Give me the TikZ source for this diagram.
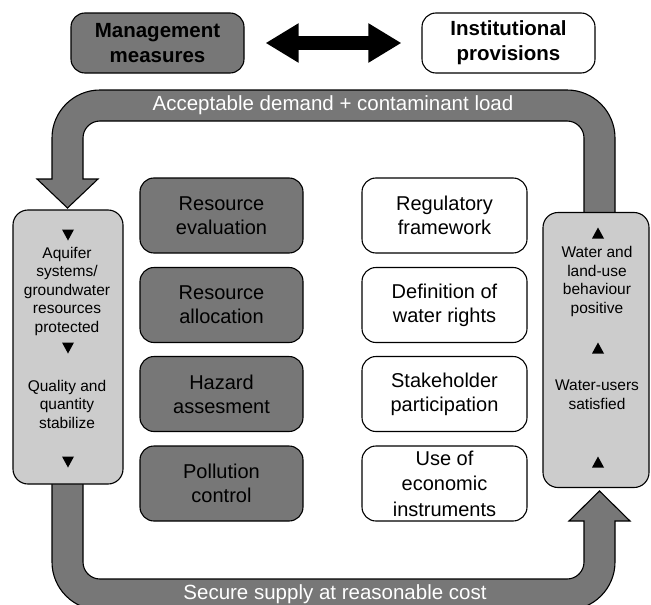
\documentclass[tikz,border=0pt]{standalone}
\usepackage{fontspec}
\setmainfont{Liberation Sans}
\usetikzlibrary{arrows.meta,calc}
\definecolor{darkfill}{HTML}{777777}
\definecolor{lightfill}{HTML}{CCCCCC}
\begin{document}
\begin{tikzpicture}[x=1pt,y=1pt,
  box/.style={draw=black, line width=1.1pt, rounded corners=14pt, align=center, inner sep=0pt},
  headbox/.style={box, minimum width=173pt, minimum height=60pt,
    font=\fontsize{20.5}{25}\selectfont\bfseries},
  measure/.style={box, fill=darkfill, minimum width=163pt, minimum height=75pt,
    font=\fontsize{20}{24}\selectfont},
  provision/.style={box, fill=white, minimum width=165pt, minimum height=75pt,
    font=\fontsize{20}{24}\selectfont},
  statebox/.style={draw=black, line width=1.1pt, rounded corners=15pt, fill=lightfill, inner sep=0pt},
  statetext/.style={align=center, inner sep=0pt, font=\fontsize{15.5}{18.5}\selectfont},
  band/.style={fill=darkfill, draw=black, line width=1.1pt, line join=miter},
  bandlabel/.style={text=white, inner sep=0pt, font=\fontsize{20.5}{24}\selectfont},
  linkarrow/.style={line width=14pt, black,
    {Triangle[width=37pt,length=33pt]}-{Triangle[width=37pt,length=33pt]}}
]
\useasboundingbox (0,0) rectangle (651,-605);
\clip (0,0) rectangle (651,-605);

% feedback band across the top, ending in a head pointing down
\path[band] (584,-215) -- (584,-138) arc[start angle=0, end angle=90, radius=17]
  -- (100,-121) arc[start angle=90, end angle=180, radius=17]
  -- (83,-179) -- (98,-179) -- (67.5,-208) -- (37,-179) -- (52,-179)
  -- (52,-138) arc[start angle=180, end angle=90, radius=48]
  -- (567,-90) arc[start angle=90, end angle=0, radius=48]
  -- (615,-215) -- cycle;

% supply band across the bottom, ending in a head pointing up
\path[band] (52,-480) -- (52,-562) arc[start angle=180, end angle=270, radius=48]
  -- (567,-610) arc[start angle=270, end angle=360, radius=48]
  -- (615,-521) -- (630,-521) -- (599.5,-491) -- (569,-521) -- (584,-521)
  -- (584,-562) arc[start angle=0, end angle=-90, radius=17]
  -- (100,-579) arc[start angle=270, end angle=180, radius=17]
  -- (83,-480) -- cycle;

\node[bandlabel] (demand) at (333,-105) {Acceptable demand + contaminant load};
\node[bandlabel] (supply) at (335,-594) {Secure supply at reasonable cost};

% heading boxes
\node[headbox, fill=darkfill] (mgmt) at (157.5,-43) {Management\\measures};
\node[headbox, fill=white] (inst) at (508.5,-43) {Institutional\\provisions};
\draw[linkarrow] ([xshift=21pt]mgmt.east) -- ([xshift=-20pt]inst.west);

% management measures
\node[measure] (eval)   at (221.5,-215.5) {Resource\\evaluation};
\node[measure] (alloc)  at (221.5,-305)   {Resource\\allocation};
\node[measure] (hazard) at (221.5,-394)   {Hazard\\assesment};
\node[measure] (pollut) at (221.5,-483.5) {Pollution\\control};

% institutional provisions
\node[provision] (regul)  at (444.5,-215.5) {Regulatory\\framework};
\node[provision] (rights) at (444.5,-305)   {Definition of\\water rights};
\node[provision] (stake)  at (444.5,-394)   {Stakeholder\\participation};
\node[provision, font=\fontsize{20}{25.5}\selectfont] (econ) at (444.5,-483.5)
  {Use of\\economic\\instruments};

% resource state column
\node[statebox, minimum width=110pt, minimum height=274pt] (aquifer) at (68,-347) {};
\node[statetext] (protect) at (67,-291) {Aquifer\\systems/\\groundwater\\resources\\protected};
\node[statetext] (stable) at (67,-404) {Quality and\\quantity\\stabilize};
\foreach \y in {235,348,462}
  \fill (62,-\y+5.5) -- (74,-\y+5.5) -- (68,-\y-5.5) -- cycle;

% water user column
\node[statebox, minimum width=106pt, minimum height=275pt] (users) at (596,-350) {};
\node[statetext] (behave) at (597,-281.5) {Water and\\land-use\\behaviour\\positive};
\node[statetext] (satisf) at (597,-394.5) {Water-users\\satisfied};
\foreach \y in {233,348,462}
  \fill (592,-\y-5.5) -- (604,-\y-5.5) -- (598,-\y+5.5) -- cycle;
\end{tikzpicture}
\end{document}
